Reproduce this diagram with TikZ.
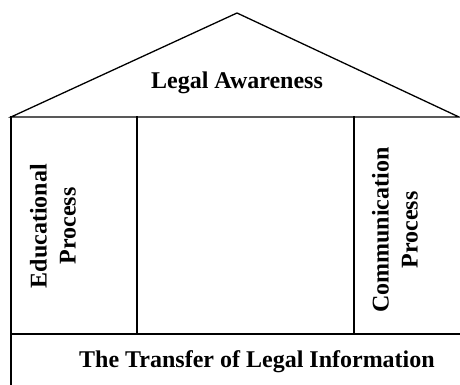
\documentclass[tikz,border=0pt]{standalone}
\usepackage{fontspec}
\setmainfont{Liberation Serif}
\begin{document}
\begin{tikzpicture}[x=1pt,y=-1pt,
  wall/.style={line width=1.3pt,line cap=rect},
  lbl/.style={font=\fontsize{24}{29}\selectfont\bfseries,align=center,inner sep=0pt}]
\useasboundingbox (0,0) rectangle (460,385);
\coordinate (apex) at (237,13);
\coordinate (rl) at (11,117);
\coordinate (rr) at (459,117);
\coordinate (m1t) at (137,117);
\coordinate (m1b) at (137,334);
\coordinate (m2t) at (354,117);
\coordinate (m2b) at (354,334);
\coordinate (hl) at (11,334);
\coordinate (hr) at (460,334);
\coordinate (lb) at (11,385);
\draw[wall,line join=miter] (rl) -- (apex) -- (rr) -- cycle;
\draw[wall] (rl) -- (lb);
\draw[wall] (m1t) -- (m1b);
\draw[wall] (m2t) -- (m2b);
\draw[wall] (hl) -- (hr);
\node[lbl] (roof) at (237,83) {Legal Awareness};
\node[lbl,rotate=90] (edu) at (53,226) {Educational\\Process};
\node[lbl,rotate=90] (com) at (395,230) {Communication\\Process};
\node[lbl] (base) at (257,362) {The Transfer of Legal Information};
\end{tikzpicture}
\end{document}
